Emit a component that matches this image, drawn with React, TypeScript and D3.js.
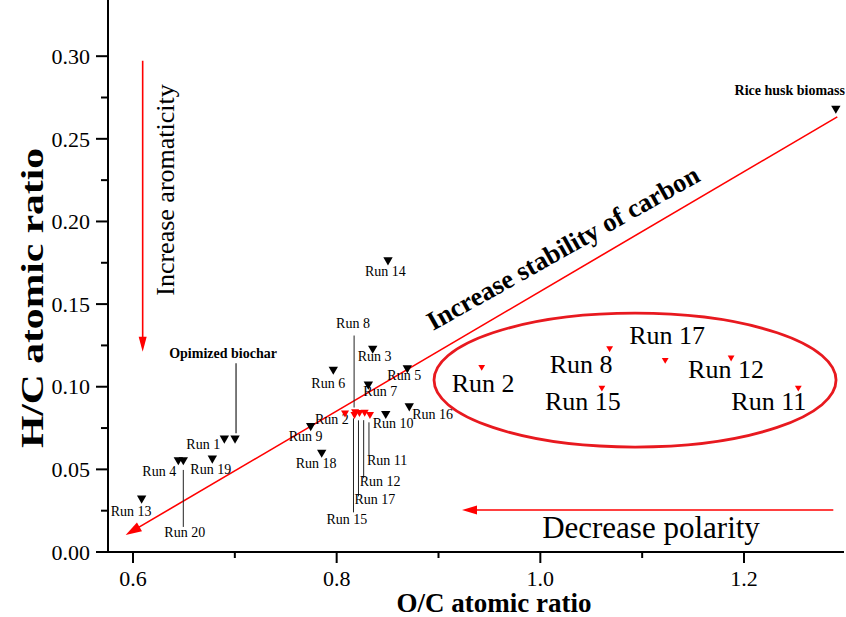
import React from "react";
import * as d3 from "d3";

const W = 846;
const H = 617;
const FONT = "'Liberation Serif', 'Times New Roman', serif";

// ---- axis ticks ----
const xMajorTicks = [0.6, 0.8, 1.0, 1.2];
const xMinorTicks = [0.7, 0.9, 1.1];
const yMajorTicks = [0, 0.05, 0.1, 0.15, 0.2, 0.25, 0.3];
const yMinorTicks = [0.025, 0.075, 0.125, 0.175, 0.225, 0.275];

// ---- biochar runs (black) ----
const blackNames = ["Run 1", "Run 3", "Run 4", "Run 5", "Run 6", "Run 7", "Run 9", "Run 10", "Run 13", "Run 14", "Run 16", "Run 18", "Run 19", "Run 20"];
const blackOC = [0.6897, 0.8354, 0.6445, 0.8694, 0.7967, 0.8311, 0.7745, 0.8482, 0.6085, 0.8504, 0.8713, 0.7853, 0.6779, 0.6494];
const blackHC = [0.0688, 0.1232, 0.0557, 0.1113, 0.1105, 0.1015, 0.0764, 0.0837, 0.0325, 0.1767, 0.0883, 0.0603, 0.0567, 0.0557];

// ---- clustered runs (red) ----
const redNames = ["Run 2", "Run 8", "Run 11", "Run 12", "Run 15", "Run 17"];
const redOC = [0.8082, 0.8181, 0.8327, 0.8275, 0.8175, 0.8224];
const redHC = [0.0842, 0.085, 0.0833, 0.0846, 0.0833, 0.0845];

// ---- reference samples ----
const refNames = ["Rice husk biomass", "Opimized biochar"];
const refOC = [1.2902, 0.7002];
const refHC = [0.2684, 0.0688];

// ---- annotation arrows (data units) ----
const diagArrowOC = [1.2916, 0.5928];
const diagArrowHC = [0.2633, 0.0103];
const vertArrowOC = [0.6095, 0.6095];
const vertArrowHC = [0.2972, 0.1212];
const horzArrowOC = [1.2877, 0.9231];
const horzArrowHC = [0.0254, 0.0254];
const ellipseOC = [1.093, 0.1974]; // centre, radius
const ellipseHC = [0.104, 0.0405];

// ---- layout: label offsets (px) ----
const blackLabel: Record<string, [number, number]> = {
  "Run 1": [-38, 11], "Run 3": [-15, 13], "Run 4": [-36, 16], "Run 5": [-20, 12],
  "Run 6": [-22, 19], "Run 7": [-5, 12], "Run 9": [-22, 15], "Run 10": [-13, 14],
  "Run 13": [-31, 18], "Run 14": [-23, 16], "Run 16": [3, 13], "Run 18": [-26, 16],
  "Run 19": [-22, 16], "Run 20": [-19, 77],
};
const blackLeader: Record<string, [number, number]> = { "Run 20": [10, 67] };
const redLabel: Record<string, [number, number]> = {
  "Run 2": [-30, 11], "Run 8": [-19, -84], "Run 11": [-3, 51], "Run 12": [-5, 74],
  "Run 15": [-28, 110], "Run 17": [-5, 92],
};
const redLeader: Record<string, [number, number]> = {
  "Run 8": [-76, -4], "Run 11": [8, 41], "Run 12": [8, 66], "Run 15": [4, 98], "Run 17": [8, 84],
};
const insetLabel: Record<string, [number, number]> = {
  "Run 2": [-30, 25], "Run 8": [-60, 25], "Run 17": [-36, -16], "Run 12": [-43, 20],
  "Run 15": [-57, 22], "Run 11": [-67, 22],
};

const x = d3.scaleLinear().domain([0.57545, 1.2982]).range([108, 844]);
const y = d3.scaleLinear().domain([0, 0.334]).range([552, 0]);
const ix = d3.scaleLinear().domain([0.8082, 0.8327]).range([481.7, 798.3]);
const iy = d3.scaleLinear().domain([0.0833, 0.085]).range([387.7, 348.3]);

const tri = (s: number) => d3.symbol().type(d3.symbolTriangle).size(s)() as string;

function arrowHead(x1: number, y1: number, x2: number, y2: number, len: number, wid: number) {
  const a = Math.atan2(y2 - y1, x2 - x1);
  const bx = x2 - len * Math.cos(a);
  const by = y2 - len * Math.sin(a);
  const px = -Math.sin(a) * wid / 2;
  const py = Math.cos(a) * wid / 2;
  return `${x2},${y2} ${bx + px},${by + py} ${bx - px},${by - py}`;
}

function Arrow({ ocs, hcs, len, wid, sw }: { ocs: number[]; hcs: number[]; len: number; wid: number; sw: number }) {
  const x1 = x(ocs[0]), y1 = y(hcs[0]), x2 = x(ocs[1]), y2 = y(hcs[1]);
  const a = Math.atan2(y2 - y1, x2 - x1);
  return (
    <g>
      <line x1={x1} y1={y1} x2={x2 - (len - 2) * Math.cos(a)} y2={y2 - (len - 2) * Math.sin(a)} stroke="#ff0000" strokeWidth={sw} />
      <polygon points={arrowHead(x1, y1, x2, y2, len, wid)} fill="#ff0000" />
    </g>
  );
}

export default function App() {
  const x0 = x.range()[0];
  const yb = y.range()[0];
  return (
    <svg width={W} height={H} style={{ position: "absolute", left: 0, top: 0, background: "#fff" }} fontFamily={FONT}>
      {/* axes */}
      <line x1={x0} y1={0} x2={x0} y2={yb} stroke="#000" strokeWidth={2} />
      <line x1={x0 - 12} y1={yb} x2={x.range()[1]} y2={yb} stroke="#000" strokeWidth={2} />
      {yMajorTicks.map((t) => (
        <g key={"ym" + t}>
          <line x1={x0 - 12} x2={x0} y1={y(t)} y2={y(t)} stroke="#000" strokeWidth={2} />
          <text x={x0 - 18} y={y(t)} dy="0.35em" textAnchor="end" fontSize={22}>{t.toFixed(2)}</text>
        </g>
      ))}
      {yMinorTicks.map((t) => (
        <line key={"yn" + t} x1={x0 - 7} x2={x0} y1={y(t)} y2={y(t)} stroke="#000" strokeWidth={2} />
      ))}
      {xMajorTicks.map((t) => (
        <g key={"xm" + t}>
          <line x1={x(t)} x2={x(t)} y1={yb} y2={yb + 11} stroke="#000" strokeWidth={2} />
          <text x={x(t)} y={yb + 34} textAnchor="middle" fontSize={22}>{t.toFixed(1)}</text>
        </g>
      ))}
      {xMinorTicks.map((t) => (
        <line key={"xn" + t} x1={x(t)} x2={x(t)} y1={yb} y2={yb + 6} stroke="#000" strokeWidth={2} />
      ))}
      <text x={494} y={612} textAnchor="middle" fontSize={27} fontWeight="bold">O/C atomic ratio</text>
      <text transform={`translate(43,298) rotate(-90)`} textAnchor="middle" fontSize={32} fontWeight="bold" textLength={300} lengthAdjust="spacingAndGlyphs">H/C atomic ratio</text>

      {/* annotation arrows */}
      <Arrow ocs={diagArrowOC} hcs={diagArrowHC} len={16} wid={10} sw={1.6} />
      <Arrow ocs={vertArrowOC} hcs={vertArrowHC} len={15} wid={8} sw={1.6} />
      <Arrow ocs={horzArrowOC} hcs={horzArrowHC} len={15} wid={9} sw={1.6} />
      <text transform={`translate(174,190) rotate(-90)`} textAnchor="middle" fontSize={26}>Increase aromaticity</text>
      <text transform={`translate(433,331) rotate(-29.3)`} fontSize={26.5} fontWeight="bold">Increase stability of carbon</text>
      <text x={651} y={538} textAnchor="middle" fontSize={31}>Decrease polarity</text>

      {/* black runs */}
      {blackNames.map((n, i) => {
        const px = x(blackOC[i]), py = y(blackHC[i]);
        const [dx, dy] = blackLabel[n];
        const ld = blackLeader[n];
        return (
          <g key={n}>
            <path d={tri(38)} transform={`translate(${px},${py}) rotate(180)`} fill="#000" />
            {ld && <line x1={px} x2={px} y1={py + ld[0]} y2={py + ld[1]} stroke="#222" strokeWidth={1} />}
            <text x={px + dx} y={py + dy} fontSize={14}>{n}</text>
          </g>
        );
      })}

      {/* reference samples */}
      {(() => {
        const rx = x(refOC[0]), ry = y(refHC[0]);
        const bx = x(refOC[1]), by = y(refHC[1]);
        return (
          <g>
            <path d={tri(38)} transform={`translate(${rx},${ry}) rotate(180)`} fill="#000" />
            <text x={845} y={ry - 13} textAnchor="end" fontSize={14} fontWeight="bold">{refNames[0]}</text>
            <path d={tri(38)} transform={`translate(${bx},${by}) rotate(180)`} fill="#000" />
            <line x1={bx + 1} x2={bx + 1} y1={by - 75} y2={by - 5} stroke="#222" strokeWidth={1.2} />
            <text x={bx - 12} y={by - 80} textAnchor="middle" fontSize={14} fontWeight="bold">{refNames[1]}</text>
          </g>
        );
      })()}

      {/* red cluster */}
      {redNames.map((n, i) => {
        const px = x(redOC[i]), py = y(redHC[i]);
        const [dx, dy] = redLabel[n];
        const ld = redLeader[n];
        return (
          <g key={n}>
            {ld && <line x1={px - 1} x2={px - 1} y1={py + ld[0]} y2={py + ld[1]} stroke="#222" strokeWidth={1} />}
            <text x={px + dx} y={py + dy} fontSize={14}>{n}</text>
          </g>
        );
      })}
      {redNames.map((n, i) => (
        <path key={"rt" + n} d={tri(28)} transform={`translate(${x(redOC[i])},${y(redHC[i])}) rotate(180)`} fill="#ff0000" />
      ))}

      {/* inset ellipse */}
      <ellipse cx={x(ellipseOC[0])} cy={y(ellipseHC[0])} rx={x(ellipseOC[0] + ellipseOC[1]) - x(ellipseOC[0])} ry={y(0) - y(ellipseHC[1])} fill="none" stroke="#e8191f" strokeWidth={2.8} />
      {redNames.map((n, i) => {
        const px = ix(redOC[i]), py = iy(redHC[i]);
        const [dx, dy] = insetLabel[n];
        return (
          <g key={"in" + n}>
            <path d={tri(20)} transform={`translate(${px},${py}) rotate(180)`} fill="#ff0000" />
            <text x={px + dx} y={py + dy} fontSize={26}>{n}</text>
          </g>
        );
      })}
    </svg>
  );
}
